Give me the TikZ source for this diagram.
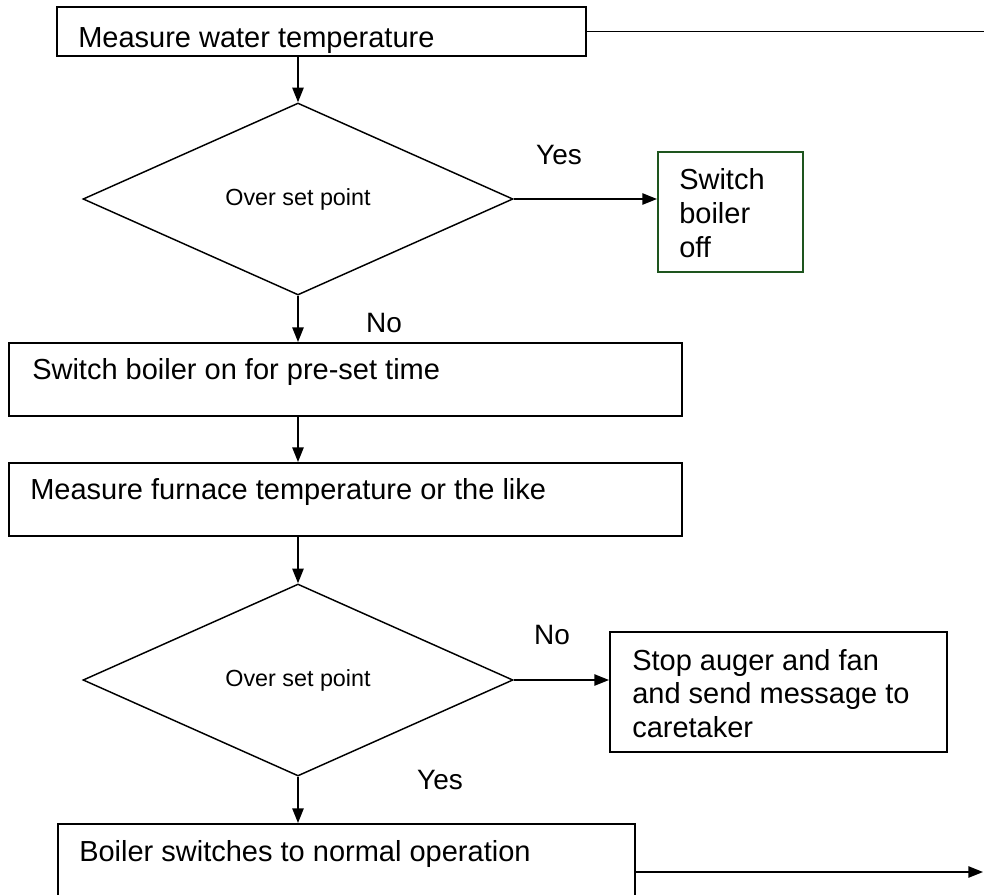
\documentclass[tikz,border=0pt]{standalone}
\usepackage{fontspec}
\setmainfont{Liberation Sans}
\usetikzlibrary{arrows.meta,shapes.geometric,fit}
\definecolor{boxgreen}{RGB}{30,85,30}
\begin{document}
\begin{tikzpicture}[x=0.75pt,y=-0.75pt,
  box/.style={draw, line width=1.5pt, inner sep=0pt},
  dia/.style={diamond, draw, line width=1.1pt, inner sep=0pt, aspect=2.24,
    minimum width=322.5pt, minimum height=144pt, font=\fontsize{17.5}{21}\selectfont},
  txt/.style={anchor=base west, inner sep=0pt, font=\fontsize{21.75}{26}\selectfont},
  lbl/.style={anchor=base, inner sep=0pt, font=\fontsize{21}{25}\selectfont},
  conn/.style={line width=1.2pt, -{Triangle[length=11pt,width=8.5pt]}},
  plainline/.style={line width=1.2pt}]
\useasboundingbox (0,0) rectangle (984,894);
\clip (0,0) rectangle (984,894);

% top box
\node[box, fit={(57,7) (586,56)}] (b1) {};
\node[txt] (t1) at (78,47) {Measure water temperature};
\coordinate (e1) at (984,0);

% first decision
\node[dia] (d1) at (298,199) {Over set point};
\node[lbl] (yes1) at (559,164) {Yes};
\node[box, draw=boxgreen, fit={(658,152) (803,272)}] (sw) {};
\node[txt] (sw1) at (679,189) {Switch};
\node[txt] (sw2) at (679,223) {boiler};
\node[txt] (sw3) at (679,257) {off};
\node[lbl] (no1) at (384,332) {No};

% boxes 2 and 3
\node[box, fit={(9,343) (682,416)}] (b2) {};
\node[txt] (t2) at (32,379) {Switch boiler on for pre-set time};
\node[box, fit={(9,463) (682,536)}] (b3) {};
\node[txt] (t3) at (30,499) {Measure furnace temperature or the like};

% second decision
\node[dia] (d2) at (298,680) {Over set point};
\node[lbl] (no2) at (552,644) {No};
\node[box, fit={(610,632) (947,752)}] (sa) {};
\node[txt] (sa1) at (632,670) {Stop auger and fan};
\node[txt] (sa2) at (632,703) {and send message to};
\node[txt] (sa3) at (632,737) {caretaker};
\node[lbl] (yes2) at (440,789) {Yes};

% bottom box
\node[box, fit={(58,824) (635,920)}] (b4) {};
\node[txt] (t4) at (79,861) {Boiler switches to normal operation};
\coordinate (e4) at (983,0);

% connectors
\draw[plainline] (b1.east) -- (b1.east -| e1);
\draw[conn] (d1.north |- b1.south) -- (d1.north);
\draw[conn] (d1.east) -- (d1.east -| sw.west);
\draw[conn] (d1.south) -- (d1.south |- b2.north);
\draw[conn] (d1.south |- b2.south) -- (d1.south |- b3.north);
\draw[conn] (d2.north |- b3.south) -- (d2.north);
\draw[conn] (d2.east) -- (d2.east -| sa.west);
\draw[conn] (d2.south) -- (d2.south |- b4.north);
\draw[conn] (b4.east) -- (b4.east -| e4);
\end{tikzpicture}
\end{document}
